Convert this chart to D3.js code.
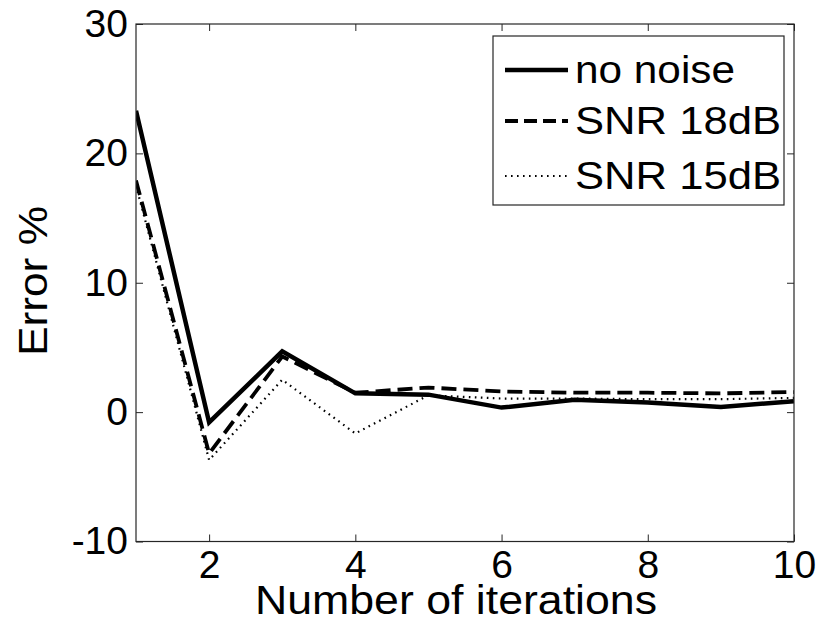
<!DOCTYPE html>
<html>
<head>
<meta charset="utf-8">
<script src="https://cdn.jsdelivr.net/npm/d3@7"></script>
<style>
  html, body { margin: 0; padding: 0; background: #fff; }
  svg { display: block; }
  text { font-family: "Liberation Sans", Arial, Helvetica, sans-serif; fill: #000; }
</style>
</head>
<body>
<svg id="chart" width="819" height="636"></svg>
<script>
// ---- data ----
const iterations = [1, 2, 3, 4, 5, 6, 7, 8, 9, 10];
const noNoise = [23.3, -0.8, 4.7, 1.45, 1.35, 0.35, 0.95, 0.75, 0.4, 0.85];
const snr18 = [17.9, -3.2, 4.3, 1.5, 1.9, 1.6, 1.5, 1.5, 1.45, 1.55];
const snr15 = [17.5, -3.7, 2.5, -1.65, 1.3, 1.05, 1.05, 1.0, 1.0, 1.1];
const seriesNames = ["no noise", "SNR 18dB", "SNR 15dB"];
const xTicks = [2, 4, 6, 8, 10];
const yTicks = [-10, 0, 10, 20, 30];
const xLabel = "Number of iterations";
const yLabel = "Error %";

// ---- layout ----
const L = 136, R = 794, T = 24, B = 541.5;
const svg = d3.select("#chart");

const x = d3.scaleLinear().domain([1, 10]).range([L, R]);
const y = d3.scaleLinear().domain([-10, 30]).range([B, T]);

const styles = [
  { width: 4.5, dash: null },
  { width: 3.8, dash: "15,7" },
  { width: 2.2, dash: "1.6,4.4" }
];
const allSeries = [noNoise, snr18, snr15];

svg.append("clipPath").attr("id", "clip")
  .append("rect").attr("x", L).attr("y", T).attr("width", R - L).attr("height", B - T);

const line = d3.line().x((d, i) => x(iterations[i])).y(d => y(d));

const g = svg.append("g").attr("clip-path", "url(#clip)");
allSeries.forEach((s, k) => {
  g.append("path")
    .datum(s)
    .attr("d", line)
    .attr("fill", "none")
    .attr("stroke", "#000")
    .attr("stroke-width", styles[k].width)
    .attr("stroke-dasharray", styles[k].dash)
    .attr("stroke-linejoin", "miter");
});

// axes (MATLAB style box, inward ticks)
const fs = 39;
const tickLen = 7;
const fmt = d => String(d);
const bottomAxis = d3.axisBottom(x).tickValues(xTicks).tickSizeInner(-tickLen).tickSizeOuter(0).tickPadding(9).tickFormat(fmt);
const topAxis = d3.axisTop(x).tickValues(xTicks).tickSizeInner(-tickLen).tickSizeOuter(0).tickFormat("");
const leftAxis = d3.axisLeft(y).tickValues(yTicks).tickSizeInner(-tickLen).tickSizeOuter(0).tickPadding(8).tickFormat(fmt);
const rightAxis = d3.axisRight(y).tickValues(yTicks).tickSizeInner(-tickLen).tickSizeOuter(0).tickFormat("");

function styleAxis(sel) {
  sel.selectAll(".domain").remove();
  sel.selectAll(".tick line").attr("stroke", "#262626").attr("stroke-width", 1);
  sel.selectAll(".tick text").attr("font-size", fs).attr("font-family", "Liberation Sans, Arial, sans-serif").attr("fill", "#000");
}
svg.append("g").attr("transform", `translate(0,${B})`).call(bottomAxis).call(styleAxis);
svg.append("g").attr("transform", `translate(0,${T})`).call(topAxis).call(styleAxis);
svg.append("g").attr("transform", `translate(${L},0)`).call(leftAxis).call(styleAxis);
svg.append("g").attr("transform", `translate(${R},0)`).call(rightAxis).call(styleAxis);

// frame
svg.append("rect").attr("x", L).attr("y", T).attr("width", R - L).attr("height", B - T)
  .attr("fill", "none").attr("stroke", "#262626").attr("stroke-width", 1.2);

// axis labels
svg.append("text").attr("x", 456).attr("y", 614)
  .attr("text-anchor", "middle").attr("font-size", 40)
  .attr("textLength", 402).attr("lengthAdjust", "spacingAndGlyphs").text(xLabel);
svg.append("text").attr("transform", `translate(47,281) rotate(-90)`)
  .attr("text-anchor", "middle").attr("font-size", 40)
  .attr("textLength", 150).attr("lengthAdjust", "spacingAndGlyphs").text(yLabel);

// legend
const lg = svg.append("g");
const lx = 493, ly = 36, lw = 291, lh = 169;
lg.append("rect").attr("x", lx).attr("y", ly).attr("width", lw).attr("height", lh)
  .attr("fill", "#fff").attr("stroke", "#262626").attr("stroke-width", 1.2);
const rowY = [70, 121, 176];
const legendLen = [160, 206, 206];
seriesNames.forEach((name, k) => {
  lg.append("line")
    .attr("x1", 505).attr("x2", 568).attr("y1", rowY[k]).attr("y2", rowY[k])
    .attr("stroke", "#000").attr("stroke-width", styles[k].width)
    .attr("stroke-dasharray", k === 1 ? "13,6" : styles[k].dash);
  lg.append("text").attr("x", 575).attr("y", rowY[k]).attr("dy", "0.35em")
    .attr("font-size", 38)
    .attr("textLength", legendLen[k]).attr("lengthAdjust", "spacingAndGlyphs")
    .text(name);
});
</script>
</body>
</html>
